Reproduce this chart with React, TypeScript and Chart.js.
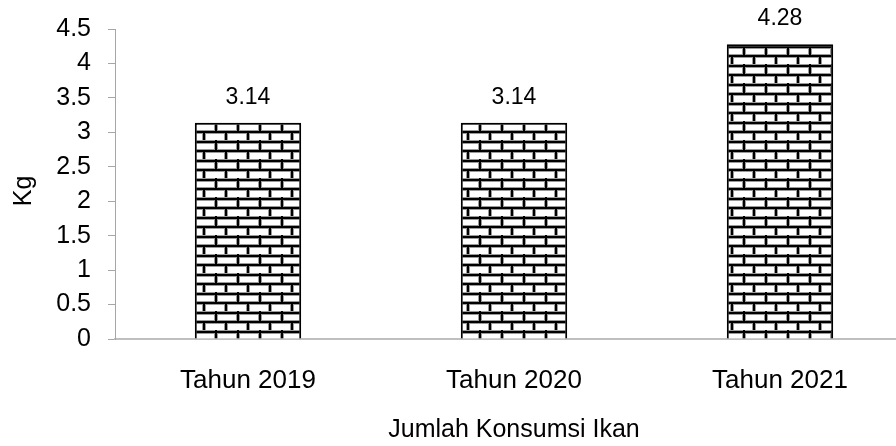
import React, { useEffect, useRef } from "react";
import { Chart, registerables } from "chart.js";

Chart.register(...registerables);

const categories = ["Tahun 2019", "Tahun 2020", "Tahun 2021"];
const values = [3.14, 3.14, 4.28];
const yTicks = [0, 0.5, 1, 1.5, 2, 2.5, 3, 3.5, 4, 4.5];
const yTitle = "Kg";
const xTitle = "Jumlah Konsumsi Ikan";

function makeBrickPattern(ctx: CanvasRenderingContext2D): CanvasPattern | string {
  const w = 22;
  const h = 19;
  const c = document.createElement("canvas");
  c.width = w;
  c.height = h;
  const p = c.getContext("2d");
  if (!p) return "#fff";
  p.fillStyle = "#ffffff";
  p.fillRect(0, 0, w, h);
  p.fillStyle = "#9a9a9a";
  p.fillRect(0, 0, w, 4);
  p.fillRect(0, 9, w, 4);
  p.fillRect(0, 0, 4, 10);
  p.fillRect(10, 9, 4, 10);
  p.fillStyle = "#000000";
  p.fillRect(0, 1, w, 2);
  p.fillRect(0, 10, w, 2);
  p.fillRect(1, 0, 2, 10);
  p.fillRect(11, 10, 2, 9);
  const pat = ctx.createPattern(c, "repeat");
  if (!pat) return "#fff";
  try {
    pat.setTransform(new DOMMatrix().translate(192, 121));
  } catch (e) {}
  return pat;
}

const valueLabels = {
  id: "valueLabels",
  afterDatasetsDraw(chart: any) {
    const ctx = chart.ctx;
    const meta = chart.getDatasetMeta(0);
    ctx.save();
    ctx.font = "23px 'Liberation Sans', Arial, sans-serif";
    ctx.fillStyle = "#000";
    ctx.textAlign = "center";
    ctx.textBaseline = "middle";
    meta.data.forEach((el: any, i: number) => {
      ctx.fillText(String(values[i]), el.x, el.y - 25);
    });
    // y-axis title
    const area = chart.chartArea;
    ctx.font = "25px 'Liberation Sans', Arial, sans-serif";
    ctx.translate(24, (area.top + area.bottom) / 2 + 7);
    ctx.rotate(-Math.PI / 2);
    ctx.fillText(yTitle, 0, 0);
    ctx.restore();
  },
};

export default function App() {
  const ref = useRef<HTMLCanvasElement | null>(null);

  useEffect(() => {
    document.body.style.margin = "0";
    document.body.style.overflow = "hidden";
    const canvas = ref.current;
    if (!canvas) return;
    const ctx = canvas.getContext("2d");
    if (!ctx) return;
    const pattern = makeBrickPattern(ctx);
    const font = "'Liberation Sans', Arial, sans-serif";
    const chart = new Chart(canvas, {
      type: "bar",
      data: {
        labels: categories,
        datasets: [
          {
            data: values,
            backgroundColor: pattern as any,
            borderColor: "#000000",
            borderWidth: 2,
            borderSkipped: "bottom",
            barPercentage: 0.4,
            categoryPercentage: 1,
          },
        ],
      },
      options: {
        responsive: false,
        animation: false,
        devicePixelRatio: 1,
        layout: { padding: { top: 29, right: 7, bottom: 0, left: 0 } },
        plugins: { legend: { display: false }, tooltip: { enabled: false } },
        scales: {
          x: {
            z: 1,
            grid: { display: false, drawTicks: false },
            border: { display: true, color: "#bfbfbf", width: 2 },
            ticks: { color: "#000", font: { family: font, size: 26 }, padding: 26, maxRotation: 0 },
            title: {
              display: true,
              text: xTitle,
              color: "#000",
              font: { family: font, size: 25 },
              padding: { top: 0, bottom: 1 },
            },
            afterFit: (s: any) => {
              s.height = 107;
            },
          },
          y: {
            min: 0,
            max: 4.5,
            afterBuildTicks: (s: any) => {
              s.ticks = yTicks.map((v) => ({ value: v }));
            },
            ticks: {
              color: "#000",
              font: { family: font, size: 25 },
              padding: 17,
              callback: (v: any) => String(v),
            },
            grid: { drawOnChartArea: false, drawTicks: true, tickLength: 7, color: "#a6a6a6" },
            border: { display: true, color: "#a6a6a6", width: 1 },
            title: { display: false },
            afterFit: (s: any) => {
              s.width = 115;
              s.paddingTop = 0;
              s.paddingBottom = 0;
            },
          },
        },
      },
      plugins: [valueLabels],
    });
    return () => chart.destroy();
  }, []);

  return (
    <div style={{ width: 896, height: 446, overflow: "hidden", position: "relative" }}>
      <canvas ref={ref} width={920} height={446} style={{ display: "block" }} />
    </div>
  );
}
